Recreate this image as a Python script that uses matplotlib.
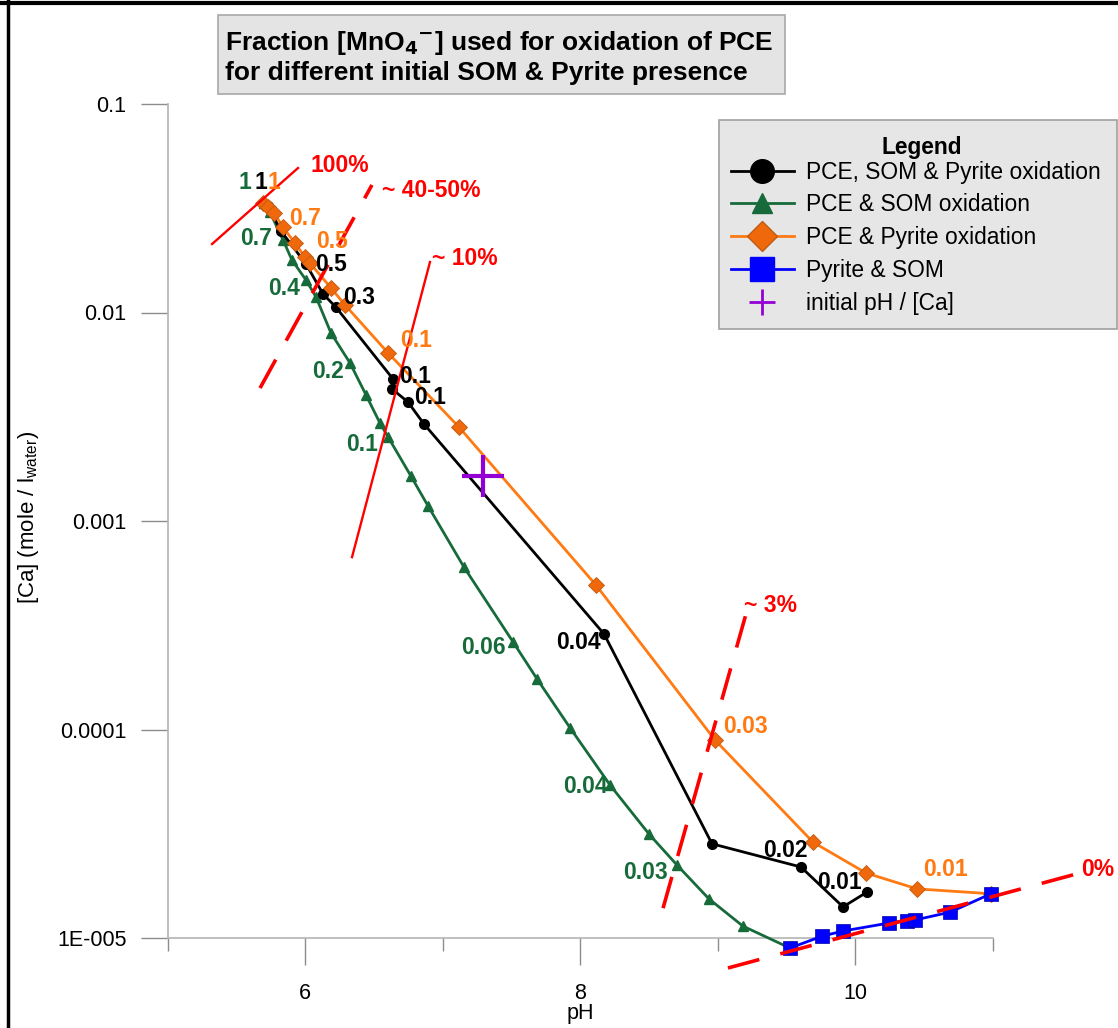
import matplotlib
matplotlib.use("Agg")
import matplotlib.pyplot as plt
from matplotlib.lines import Line2D
from matplotlib.patches import Rectangle
from matplotlib.ticker import FixedLocator, FixedFormatter, NullLocator

plt.rcParams['font.family'] = ['Liberation Sans', 'DejaVu Sans']

# pH / [Ca] paths for each scenario
ph_all = [5.731, 5.825, 6.007, 6.131, 6.225, 6.640, 6.633, 6.749, 6.865,
          8.175, 8.960, 9.607, 9.913, 10.087]
ca_all = [0.0324, 0.0246, 0.0171, 0.01228, 0.0106, 0.0048, 0.0043, 0.00372,
          0.00292, 0.000287, 2.83e-5, 2.19e-5, 1.41e-5, 1.66e-5]

ph_som = [5.702, 5.745, 5.840, 5.905, 6.007, 6.080, 6.189, 6.327, 6.444,
          6.545, 6.604, 6.771, 6.895, 7.156, 7.513, 7.687, 7.927, 8.218,
          8.502, 8.705, 8.938, 9.185, 9.527]
ca_som = [0.0335, 0.0303, 0.0223, 0.01786, 0.01432, 0.01187, 0.00797,
          0.00573, 0.00402, 0.00295, 0.00253, 0.00164, 0.00118, 0.000601,
          0.000263, 0.000175, 0.000102, 5.42e-5, 3.15e-5, 2.24e-5, 1.54e-5,
          1.14e-5, 8.95e-6]

ph_pyr = [5.695, 5.731, 5.775, 5.840, 5.927, 6.000, 6.036, 6.189, 6.291,
          6.604, 7.120, 8.116, 8.982, 9.695, 10.080, 10.451, 10.989]
ca_pyr = [0.0335, 0.0321, 0.0300, 0.0257, 0.0215, 0.01845, 0.01726, 0.01312,
          0.01087, 0.0064, 0.00282, 0.000493, 8.9e-5, 2.88e-5, 2.05e-5,
          1.72e-5, 1.63e-5]

ph_pyr_som = [9.527, 9.760, 9.913, 10.247, 10.378, 10.436, 10.691, 10.989]
ca_pyr_som = [8.95e-6, 1.02e-5, 1.08e-5, 1.18e-5, 1.21e-5, 1.22e-5, 1.33e-5,
              1.63e-5]

ph_init = [7.295]
ca_init = [0.00164]

# iso-fraction guide lines: (label, pH ends, [Ca] ends, dashed?)
guides = [
    ("100%",     [5.324, 5.949], [0.0213, 0.0493],   False),
    ("~ 40-50%", [5.673, 6.487], [0.00434, 0.0409],  True),
    ("~ 10%",    [6.342, 6.909], [0.000671, 0.01746], False),
    ("~ 3%",     [8.604, 9.236], [1.39e-5, 0.000418], True),
    ("0%",       [9.076, 11.636], [7.18e-6, 2.05e-5], True),
]

series_labels = ["PCE, SOM & Pyrite oxidation", "PCE & SOM oxidation",
                 "PCE & Pyrite oxidation", "Pyrite & SOM", "initial pH / [Ca]"]

BLACK = "black"
GREEN = "#176B3A"
ORANGE = "#FF7A12"
BLUE = "#0000FF"
PURPLE = "#9400D3"
RED = "#FF0000"

fig = plt.figure(figsize=(11.18, 10.28), dpi=100)
W, H = 1118, 1028
ax = fig.add_axes([167.5 / W, 1 - 938 / H, 825 / W, 834 / H])
ax.set_yscale('log')

ax.plot(ph_som, ca_som, color=GREEN, lw=2, marker='^', ms=7.5, mec=GREEN,
        mfc=GREEN, zorder=3, clip_on=False)
ax.plot(ph_all, ca_all, color=BLACK, lw=2, marker='o', ms=7, zorder=4,
        clip_on=False)
ax.plot(ph_pyr, ca_pyr, color=ORANGE, lw=2, marker='D', ms=8.5,
        mfc="#F0680C", mec="#C05A10", mew=0.6, zorder=5, clip_on=False)
ax.plot(ph_pyr_som, ca_pyr_som, color=BLUE, lw=2, marker='s', ms=9.5,
        mfc=BLUE, mec="#0000AA", mew=0.5, zorder=6, clip_on=False)
ax.plot(ph_init, ca_init, ls='none', marker='+', ms=30, mew=3,
        color=PURPLE, zorder=9)

for lab, gx, gy, dashed in guides:
    if dashed:
        ax.plot(gx, gy, color=RED, lw=2.6, ls=(0, (9, 6)), zorder=7,
                clip_on=False)
    else:
        ax.plot(gx, gy, color=RED, lw=1.7, zorder=7, clip_on=False)

guide_text = [(6.255, 0.0505), (6.916, 0.0383), (7.164, 0.0181),
              (9.389, 0.000395), (11.767, 2.12e-5)]
for (lab, *_), (tx, ty) in zip(guides, guide_text):
    ax.text(tx, ty, lab, color=RED, fontsize=16.5, fontweight='bold',
            ha='center', va='center', clip_on=False, zorder=8)

# fraction of MnO4- spent on PCE along each path
fractions = [
    ("1", 5.564, 0.0418, GREEN), ("1", 5.680, 0.0418, BLACK),
    ("1", 5.775, 0.0418, ORANGE),
    ("0.7", 6.000, 0.0281, ORANGE), ("0.7", 5.644, 0.02255, GREEN),
    ("0.5", 6.196, 0.0218, ORANGE), ("0.5", 6.189, 0.0170, BLACK),
    ("0.4", 5.847, 0.01297, GREEN), ("0.3", 6.393, 0.01174, BLACK),
    ("0.1", 6.807, 0.00738, ORANGE), ("0.1", 6.800, 0.00491, BLACK),
    ("0.1", 6.909, 0.00389, BLACK), ("0.2", 6.167, 0.00519, GREEN),
    ("0.1", 6.415, 0.00232, GREEN), ("0.04", 7.985, 0.00026, BLACK),
    ("0.06", 7.295, 0.000246, GREEN), ("0.03", 9.207, 0.000103, ORANGE),
    ("0.04", 8.036, 5.3e-5, GREEN), ("0.03", 8.473, 2.07e-5, GREEN),
    ("0.02", 9.491, 2.64e-5, BLACK), ("0.01", 9.884, 1.84e-5, BLACK),
    ("0.01", 10.655, 2.14e-5, ORANGE),
]
for txt, tx, ty, c in fractions:
    ax.text(tx, ty, txt, color=c, fontsize=16.5, fontweight='bold',
            ha='center', va='center', zorder=8)

ax.set_xlim(5, 11)
ax.set_ylim(1e-5, 0.1)
ax.yaxis.set_major_locator(FixedLocator([1e-5, 1e-4, 1e-3, 1e-2, 1e-1]))
ax.yaxis.set_major_formatter(FixedFormatter(['1E-005', '0.0001', '0.001', '0.01', '0.1']))
ax.yaxis.set_minor_locator(NullLocator())
ax.xaxis.set_major_locator(FixedLocator([6, 8, 10]))
ax.xaxis.set_minor_locator(FixedLocator([5, 7, 9, 11]))
ax.tick_params(axis='y', which='major', length=19.5, width=1, color='#8C8C8C',
               labelsize=15.5, pad=10)
ax.tick_params(axis='x', which='major', length=19.5, width=1, color='#8C8C8C',
               labelsize=15.5, pad=13)
ax.tick_params(axis='x', which='minor', length=9.5, width=1, color='#8C8C8C')
for s in ['top', 'right']:
    ax.spines[s].set_visible(False)
for s in ['left', 'bottom']:
    ax.spines[s].set_color('#B4B4B4')
    ax.spines[s].set_linewidth(1.2)

ax.set_xlabel('pH', fontsize=15.5, labelpad=-1)
fig.text(29 / W, 1 - 517 / H, r'[Ca] (mole / l$_{\mathregular{water}}$)',
         rotation=90, fontsize=16, ha='center', va='center')

# title box
fig.patches.append(Rectangle((218 / W, 1 - 94 / H), 567 / W, 79 / H,
                             transform=fig.transFigure, facecolor='#E4E4E4',
                             edgecolor='#A8A8A8', lw=1.2, zorder=0))
fig.text(225 / W, 1 - 43 / H,
         r'Fraction [MnO$_\mathbf{4}$$^\mathbf{-}$] used for oxidation of PCE',
         fontsize=19, fontweight='bold', va='center', ha='left')
fig.text(225 / W, 1 - 73 / H, 'for different initial SOM & Pyrite presence',
         fontsize=19, fontweight='bold', va='center', ha='left')

# legend box
fig.patches.append(Rectangle((719 / W, 1 - 329 / H), 398 / W, 209 / H,
                             transform=fig.transFigure, facecolor='#E6E6E6',
                             edgecolor='#A0A0A0', lw=1.2, zorder=1))
fig.text(922 / W, 1 - 148 / H, 'Legend', fontsize=16.4, fontweight='bold',
         ha='center', va='center', zorder=2)
handles = [
    Line2D([], [], color=BLACK, lw=2, marker='o', ms=17),
    Line2D([], [], color=GREEN, lw=2, marker='^', ms=15),
    Line2D([], [], color=ORANGE, lw=2, marker='D', ms=15, mfc="#F0680C", mec="#C05A10"),
    Line2D([], [], color=BLUE, lw=2, marker='s', ms=17),
    Line2D([], [], color=PURPLE, ls='none', marker='+', ms=19, mew=2),
]
leg = fig.legend(handles, series_labels, loc='upper left',
                 bbox_to_anchor=(726 / W, 1 - 156 / H), frameon=False,
                 fontsize=16.4, handlelength=2.8, handletextpad=0.5,
                 labelspacing=0.434, borderpad=0.2, borderaxespad=0)
leg.set_zorder(2)

# frame edges of the page
fig.add_artist(Line2D([0, 1], [1 - 3 / H, 1 - 3 / H], transform=fig.transFigure,
                      color='black', lw=3))
fig.add_artist(Line2D([8 / W, 8 / W], [0, 1], transform=fig.transFigure,
                      color='black', lw=2.5))

fig.savefig('out.png', dpi=100)
